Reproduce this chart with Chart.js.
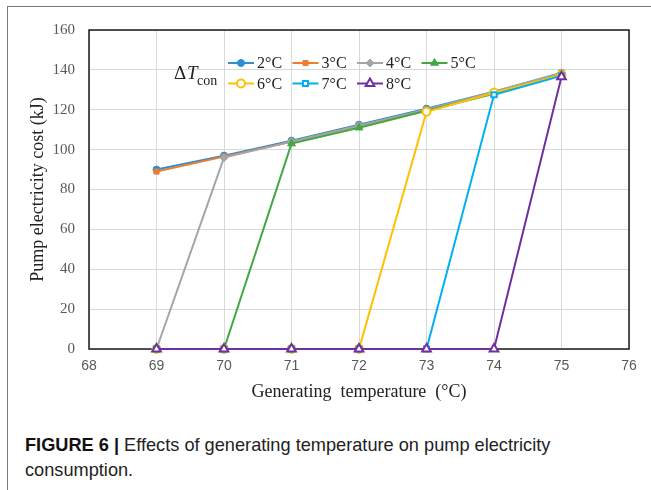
<!DOCTYPE html>
<html>
<head>
<meta charset="utf-8">
<script src="https://cdn.jsdelivr.net/npm/chart.js@4.4.1/dist/chart.umd.min.js"></script>
<style>
    html, body { margin: 0; padding: 0; background: #fff; }
    #page { position: relative; width: 651px; height: 490px; overflow: hidden; }
    #frame {
        position: absolute; left: 7px; top: 6px; width: 660px; height: 500px;
        border-top: 1.5px solid #7a7a7a; border-left: 1.5px solid #7a7a7a;
    }
    #chart-box { position: absolute; left: 0; top: 0; width: 651px; height: 410px; }
    #caption {
        position: absolute; left: 25px; top: 433px; width: 575px;
        font-family: "Liberation Sans", Arial, sans-serif; font-size: 18.2px;
        line-height: 25px; color: #222;
    }
    #caption b { font-weight: bold; color: #111; }
</style>
</head>
<body>
<div id="page">
    <div id="frame"></div>
    <div id="chart-box"><canvas id="pumpChart" width="651" height="410"></canvas></div>
    <div id="caption"><b>FIGURE 6 |</b> Effects of generating temperature on pump electricity consumption.</div>
</div>
<script>
// Generating temperature (°C)
const temps = [69, 70, 71, 72, 73, 74, 75];

// Pump electricity cost (kJ) per condensing temperature difference
const cost2 = [90, 97, 104.5, 112.5, 120.5, 129, 138.5];
const cost3 = [89, 96.5, 104, 112, 120, 128.5, 138];
const cost4 = [0, 96, 104, 112, 120, 129, 138.5];
const cost5 = [0, 0, 103, 111, 119.5, 128, 137.5];
const cost6 = [0, 0, 0, 0, 119, 128.5, 137.5];
const cost7 = [0, 0, 0, 0, 0, 127.5, 137];
const cost8 = [0, 0, 0, 0, 0, 0, 136.5];

const seriesLabels = ['2°C', '3°C', '4°C', '5°C', '6°C', '7°C', '8°C'];
const seriesValues = [cost2, cost3, cost4, cost5, cost6, cost7, cost8];

const styles = [
    { color: '#2b8fd0', point: 'circle', radius: 3.5, open: false },
    { color: '#ed7d31', point: 'rect', radius: 3.6, open: false },
    { color: '#a5a5a5', point: 'rectRot', radius: 4, open: false },
    { color: '#43a843', point: 'triangle', radius: 4.5, open: false },
    { color: '#ffc000', point: 'circle', radius: 4, open: true },
    { color: '#00b0f0', point: 'rect', radius: 3.6, open: true },
    { color: '#7030a0', point: 'triangle', radius: 5, open: true }
];

const datasets = seriesValues.map((vals, i) => {
    const s = styles[i];
    return {
        label: seriesLabels[i],
        data: vals.map((v, j) => ({ x: temps[j], y: v })),
        borderColor: s.color,
        backgroundColor: s.open ? '#ffffff' : s.color,
        pointBorderColor: s.color,
        pointBackgroundColor: s.open ? '#ffffff' : s.color,
        pointStyle: s.point,
        pointRadius: s.radius,
        pointBorderWidth: s.open ? 2 : 1,
        borderWidth: 2,
        tension: 0,
        clip: false,
        order: 6 - i   // later series drawn on top
    };
});

// black frame round the plot area, under the data
const plotFrame = {
    id: 'plotFrame',
    beforeDatasetsDraw(chart) {
        const { ctx, chartArea: a } = chart;
        ctx.save();
        ctx.strokeStyle = '#1a1a1a';
        ctx.lineWidth = 1.5;
        ctx.strokeRect(a.left, a.top, a.right - a.left, a.bottom - a.top);
        ctx.restore();
    }
};

// two-row legend inside the plot, with the ΔTcon heading
const insideLegend = {
    id: 'insideLegend',
    afterDraw(chart) {
        const ctx = chart.ctx;
        ctx.save();
        ctx.fillStyle = '#222';
        ctx.textBaseline = 'alphabetic';
        ctx.font = '19px "Liberation Serif", serif';
        ctx.fillText('Δ', 174, 79);
        ctx.font = 'italic 19px "Liberation Serif", serif';
        ctx.fillText('T', 187, 79);
        ctx.font = '14px "Liberation Serif", serif';
        ctx.fillText('con', 197, 85);

        seriesLabels.forEach((lab, i) => {
            const s = styles[i];
            const x0 = 228 + (i % 4) * 64.5;
            const y = 63 + Math.floor(i / 4) * 20.5;
            ctx.strokeStyle = s.color;
            ctx.lineWidth = 2;
            ctx.beginPath();
            ctx.moveTo(x0, y);
            ctx.lineTo(x0 + 26, y);
            ctx.stroke();
            ctx.fillStyle = s.open ? '#ffffff' : s.color;
            ctx.lineWidth = s.open ? 2 : 1;
            Chart.helpers.drawPoint(ctx, {
                pointStyle: s.point, radius: s.radius, rotation: 0,
                borderWidth: s.open ? 2 : 1
            }, x0 + 13, y);
            ctx.fillStyle = '#222';
            ctx.font = '16px "Liberation Serif", serif';
            ctx.textBaseline = 'middle';
            ctx.fillText(lab, x0 + 29, y + 1);
        });
        ctx.restore();
    }
};

new Chart(document.getElementById('pumpChart').getContext('2d'), {
    type: 'line',
    data: { datasets },
    plugins: [plotFrame, insideLegend],
    options: {
        responsive: false,
        animation: false,
        layout: { padding: { left: 0, right: 22, top: 30, bottom: 0 } },
        plugins: { legend: { display: false }, tooltip: { enabled: false } },
        scales: {
            x: {
                type: 'linear',
                min: 68, max: 76,
                afterFit: s => { s.height = 61; },
                ticks: {
                    stepSize: 1, padding: 9, color: '#595959',
                    font: { family: '"Liberation Sans", Arial, sans-serif', size: 14 }
                },
                grid: { color: '#d9d9d9', lineWidth: 1, drawTicks: false },
                border: { display: false },
                title: {
                    display: true, text: 'Generating  temperature  (°C)', color: '#222',
                    padding: { top: 0, bottom: 7 },
                    font: { family: '"Liberation Serif", serif', size: 18 }
                }
            },
            y: {
                min: 0, max: 160,
                afterFit: s => { s.width = 89; },
                ticks: {
                    stepSize: 20, padding: 14, color: '#595959',
                    font: { family: '"Liberation Serif", serif', size: 15 }
                },
                grid: { color: '#d9d9d9', lineWidth: 1, drawTicks: false },
                border: { display: false },
                title: {
                    display: true, text: 'Pump electricity cost (kJ)', color: '#222',
                    padding: { top: 27, bottom: 0 },
                    font: { family: '"Liberation Serif", serif', size: 18 }
                }
            }
        }
    }
});
</script>
</body>
</html>
